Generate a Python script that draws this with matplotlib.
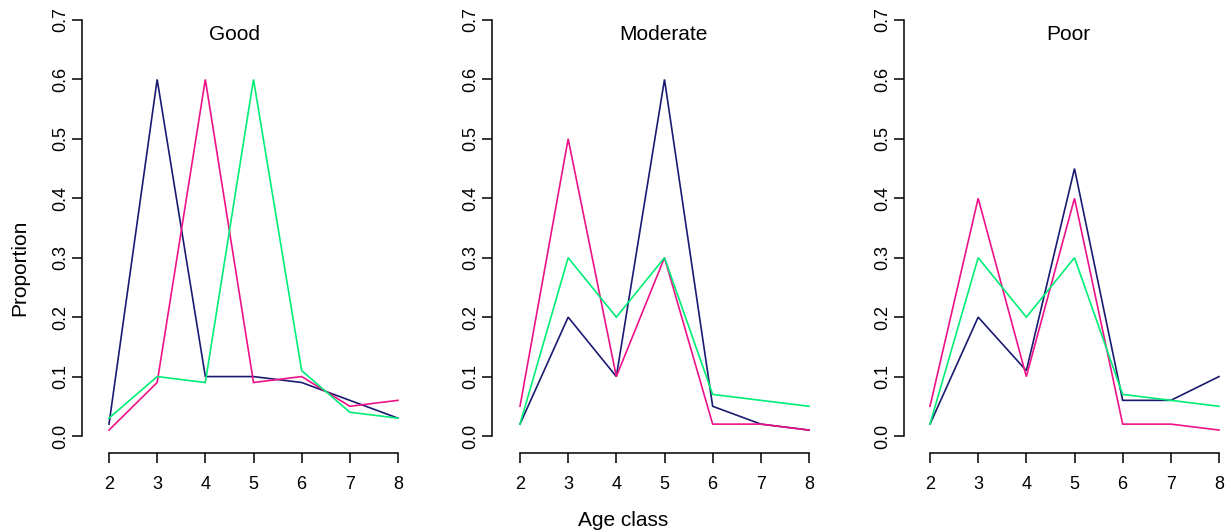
import matplotlib as mlp
mlp.use('Agg')
import matplotlib.pyplot as plt

import numpy as np

plt.rcParams['font.family'] = ['Liberation Sans', 'DejaVu Sans']

age_class = [2, 3, 4, 5, 6, 7, 8]
panels = ['Good', 'Moderate', 'Poor']

# proportion per age class, one list per group and panel
navy_good = [0.02, 0.60, 0.10, 0.10, 0.09, 0.06, 0.03]
pink_good = [0.01, 0.09, 0.60, 0.09, 0.10, 0.05, 0.06]
green_good = [0.03, 0.10, 0.09, 0.60, 0.11, 0.04, 0.03]

navy_moderate = [0.02, 0.20, 0.10, 0.60, 0.05, 0.02, 0.01]
pink_moderate = [0.05, 0.50, 0.10, 0.30, 0.02, 0.02, 0.01]
green_moderate = [0.02, 0.30, 0.20, 0.30, 0.07, 0.06, 0.05]

navy_poor = [0.02, 0.20, 0.11, 0.45, 0.06, 0.06, 0.10]
pink_poor = [0.05, 0.40, 0.10, 0.40, 0.02, 0.02, 0.01]
green_poor = [0.02, 0.30, 0.20, 0.30, 0.07, 0.06, 0.05]

y_ticks = [0.0, 0.1, 0.2, 0.3, 0.4, 0.5, 0.6, 0.7]

series = [
    (navy_good, pink_good, green_good),
    (navy_moderate, pink_moderate, green_moderate),
    (navy_poor, pink_poor, green_poor),
]
COLORS = ['#1a1a72', '#ee1289', '#00ee76']

W, H = 1227, 531
fig = plt.figure(figsize=(W / 100, H / 100), dpi=100)

# pixel layout of each panel: y-axis line, x=2, x=8
spine_px = [82, 492, 904]
x2_px = [109, 520, 930]
x8_px = [398, 809, 1219]
title_px = [235, 663, 1068]
top_px, zero_px, bottom_px = 20, 436, 453

for i, name in enumerate(panels):
    left = spine_px[i]
    right = x8_px[i] + 3
    ax = fig.add_axes([left / W, (H - bottom_px) / H,
                       (right - left) / W, (bottom_px - top_px) / H])
    scale = (x8_px[i] - x2_px[i]) / 6.0
    ax.set_xlim(2 - (x2_px[i] - left) / scale, 8 + 3 / scale)
    yscale = (zero_px - top_px) / 0.7
    ax.set_ylim(-(bottom_px - zero_px) / yscale, 0.7)

    for vals, c in zip(series[i], COLORS):
        ax.plot(age_class, vals, color=c, lw=1.2, solid_joinstyle='miter')

    ax.spines['top'].set_visible(False)
    ax.spines['right'].set_visible(False)
    ax.spines['left'].set_bounds(0, 0.7)
    ax.spines['bottom'].set_bounds(2, 8)
    for s in ['left', 'bottom']:
        ax.spines[s].set_linewidth(1.1)
    ax.set_xticks(age_class)
    ax.set_yticks(y_ticks)
    ax.set_yticklabels(['%.1f' % v for v in y_ticks], rotation=90,
                       va='center')
    ax.tick_params(axis='both', direction='out', length=7, width=1.1,
                   labelsize=13)
    ax.tick_params(axis='x', pad=9.5)
    ax.tick_params(axis='y', pad=2)

    xt = 2 + (title_px[i] - x2_px[i]) / scale
    ax.text(xt, 0.7 - (40 - top_px) / yscale, name, ha='center',
            va='baseline', fontsize=15)

fig.text(20 / W, 1 - 268 / H, 'Proportion', rotation=90, ha='center',
         va='center', fontsize=15)
fig.text(623 / W, 1 - 526 / H, 'Age class', ha='center', va='baseline',
         fontsize=15)

fig.savefig('out.png', dpi=100)
